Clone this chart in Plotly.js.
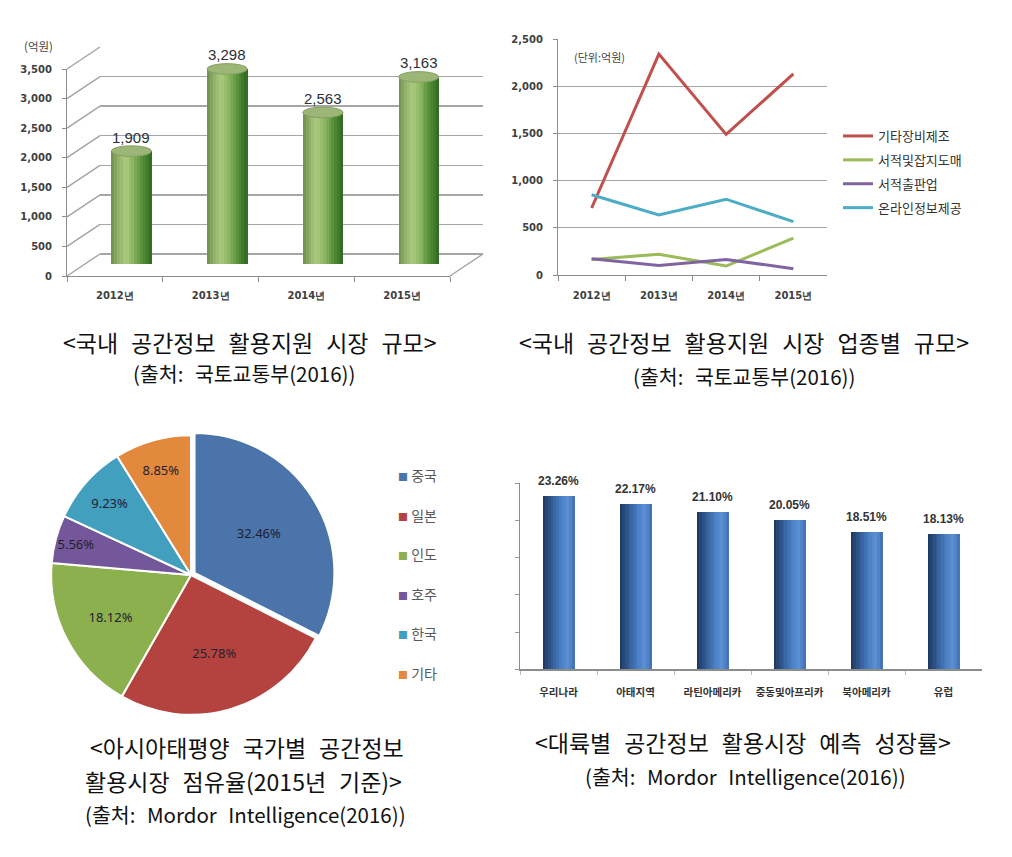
<!DOCTYPE html>
<html>
<head>
<meta charset="utf-8">
<script src="https://cdn.plot.ly/plotly-3.0.1.min.js"></script>
<style>
  body { margin: 0; background: #fff; }
  #chart { width: 1012px; height: 857px; }
</style>
</head>
<body>
<div id="chart"></div>
<script>
"use strict";

// 국내 공간정보 활용지원 시장 규모 (억원)
var years = ['2012년', '2013년', '2014년', '2015년'];
var marketSize = [1909, 3298, 2563, 3163];

// 업종별 규모 (단위: 억원)
var sectorNames = ['기타장비제조', '서적및잡지도매', '서적출판업', '온라인정보제공'];
var equipMfg = [710, 2340, 1490, 2130];
var bookWholesale = [165, 220, 95, 390];
var bookPublish = [172, 100, 165, 67];
var onlineInfo = [850, 636, 803, 566];
var sectorColors = ['#c0504d', '#9bbb59', '#8064a2', '#4bacc6'];

// 아시아태평양 국가별 점유율 (%)
var countries = ['중국', '일본', '인도', '호주', '한국', '기타'];
var shares = [32.46, 25.78, 18.12, 5.56, 9.23, 8.85];
var pieColors = ['#4a74aa', '#b4433f', '#8db04f', '#74579a', '#429fbd', '#e2893d'];

// 대륙별 예측 성장률 (%)
var regions = ['우리나라', '아태지역', '라틴아메리카', '중동및아프리카', '북아메리카', '유럽'];
var growth = [23.26, 22.17, 21.10, 20.05, 18.51, 18.13];

var W = 1012, H = 857;
function px(x) { return x / W; }
function py(y) { return 1 - y / H; }

// couleurs en dégradé pour simuler les cylindres
function hex2rgb(h) {
  return [parseInt(h.substr(1, 2), 16), parseInt(h.substr(3, 2), 16), parseInt(h.substr(5, 2), 16)];
}
function gradientAt(stops, t) {
  for (var i = 1; i < stops.length; i++) {
    if (t <= stops[i][0]) {
      var a = hex2rgb(stops[i - 1][1]), b = hex2rgb(stops[i][1]);
      var f = (t - stops[i - 1][0]) / (stops[i][0] - stops[i - 1][0]);
      var c = a.map(function (v, k) { return Math.round(v + (b[k] - v) * f); });
      return 'rgb(' + c.join(',') + ')';
    }
  }
  return stops[stops.length - 1][1];
}

function stripedBars(x, y, xa, ya, totalWidth, n, stops) {
  var traces = [];
  var w = totalWidth / n;
  for (var k = 0; k < n; k++) {
    traces.push({
      type: 'bar', x: x, y: y, xaxis: xa, yaxis: ya,
      width: w * 1.15, offset: -totalWidth / 2 + k * w,
      marker: { color: gradientAt(stops, (k + 0.5) / n), line: { width: 0 } },
      showlegend: false, hoverinfo: 'skip'
    });
  }
  return traces;
}

// trace transparente : juste pour que plotly dessine les axes du sous-graphique
function axisHolder(x, y, xa, ya) {
  return {
    type: 'scatter', mode: 'markers', x: x, y: y, xaxis: xa, yaxis: ya,
    marker: { opacity: 0 }, showlegend: false, hoverinfo: 'skip'
  };
}

var data = [];

// --- graphique 1 : cylindres verts ---
data.push(axisHolder(years, marketSize, 'x', 'y'));
data.push(axisHolder(years, marketSize, 'x2', 'y2'));
var greenStops = [[0, '#718a50'], [0.15, '#8fae66'], [0.35, '#abcb81'], [0.55, '#88b35e'], [0.8, '#4f8a33'], [1, '#2e6821']];
data = data.concat(stripedBars(years, marketSize, 'x3', 'y3', 0.42, 14, greenStops));

// --- graphique 2 : lignes par secteur ---
[equipMfg, bookWholesale, bookPublish, onlineInfo].forEach(function (vals, i) {
  data.push({
    type: 'scatter', mode: 'lines', x: years, y: vals, xaxis: 'x4', yaxis: 'y4',
    name: sectorNames[i], legendgroup: sectorNames[i],
    line: { color: sectorColors[i], width: 3 }
  });
});

// --- graphique 3 : camembert ---
data.push({
  type: 'pie', labels: countries, values: shares, sort: false, direction: 'clockwise',
  rotation: 0, pull: [0.03, 0, 0, 0, 0, 0],
  marker: { colors: pieColors, line: { color: '#ffffff', width: 2 } },
  texttemplate: '%{value:.2f}%', textposition: 'inside', insidetextorientation: 'horizontal',
  textfont: { family: 'Noto Sans', size: 13, color: '#1e2230' },
  domain: { x: [px(47), px(335)], y: [py(719), py(431)] },
  showlegend: false, hoverinfo: 'skip'
});

// --- graphique 4 : barres bleues ---
var blueStops = [[0, '#1d3558'], [0.2, '#2b5085'], [0.55, '#487dc2'], [0.8, '#5c90d6'], [1, '#3f6eae']];
data = data.concat(stripedBars(regions, growth, 'x5', 'y5', 0.415, 12, blueStops));

var tickFont = { family: 'DejaVu Sans', size: 10, color: '#404040', weight: 'bold' };

var shapes = [];
var annotations = [];

// parois 3D du graphique 1 : diagonales entre le plan avant et le mur du fond
var front = { left: 67, right: 450, bottom: 276, top: 69 };
var depthX = 33, depthY = 22;
for (var t = 0; t <= 3500; t += 500) {
  var yy = front.bottom - (front.bottom - front.top) * t / 3500;
  shapes.push({
    type: 'line', xref: 'paper', yref: 'paper', layer: 'below',
    x0: px(front.left), y0: py(yy), x1: px(front.left + depthX), y1: py(yy - depthY),
    line: { color: '#a6a6a6', width: 1.5 }
  });
}
shapes.push({
  type: 'line', xref: 'paper', yref: 'paper', layer: 'below',
  x0: px(front.right), y0: py(front.bottom), x1: px(front.right + depthX), y1: py(front.bottom - depthY),
  line: { color: '#a6a6a6', width: 1.5 }
});

// bases et couvercles elliptiques des cylindres
var capH = 90;
marketSize.forEach(function (v, i) {
  shapes.push({
    type: 'circle', xref: 'x3', yref: 'y3', layer: 'below',
    x0: i - 0.21, x1: i + 0.21, y0: -capH, y1: capH,
    fillcolor: '#4a7f33', line: { width: 0 }
  });
  shapes.push({
    type: 'circle', xref: 'x3', yref: 'y3', layer: 'above',
    x0: i - 0.21, x1: i + 0.21, y0: v - capH, y1: v + capH,
    fillcolor: '#9cb678', line: { color: '#86a062', width: 1 }
  });
  annotations.push({
    xref: 'x3', yref: 'y3', x: i, y: v, yshift: 14, yanchor: 'middle', showarrow: false,
    text: v.toLocaleString('en-US'),
    font: { family: 'Liberation Sans', size: 15, color: '#2b2f3a' }
  });
});

annotations.push({
  xref: 'paper', yref: 'paper', x: px(38), y: py(46), xanchor: 'center', yanchor: 'middle',
  showarrow: false,
  text: '(억원)', font: { family: 'Noto Sans CJK KR', size: 11.5, color: '#444' }
});
annotations.push({
  xref: 'paper', yref: 'paper', x: px(599), y: py(57), xanchor: 'center', yanchor: 'middle',
  showarrow: false,
  text: '(단위:억원)', font: { family: 'Noto Sans CJK KR', size: 11, color: '#444' }
});

// étiquettes du graphique 4
growth.forEach(function (v, i) {
  annotations.push({
    xref: 'x5', yref: 'y5', x: i, y: v, yshift: 15, yanchor: 'middle', showarrow: false,
    text: '<b>' + v.toFixed(2) + '%</b>',
    font: { family: 'Liberation Sans', size: 12, color: '#333' }
  });
});

// légende du camembert
countries.forEach(function (c, i) {
  annotations.push({
    xref: 'paper', yref: 'paper', x: px(396), y: py(475 + i * 39.6), xanchor: 'left', yanchor: 'middle',
    showarrow: false,
    text: '<span style="color:' + pieColors[i] + ';font-size:10px">■</span> ' + c,
    font: { family: 'Noto Sans CJK KR', size: 14, color: '#595959' }
  });
});

// légendes sous les graphiques
var sp = '\u2002\u200a';
var captions = [
  ['<국내 공간정보 활용지원 시장 규모>', 250, 342, 23],
  ['(출처: 국토교통부(2016))', 244, 373, 20.5],
  ['<국내 공간정보 활용지원 시장 업종별 규모>', 744, 342, 23],
  ['(출처: 국토교통부(2016))', 744, 376, 20.5],
  ['<아시아태평양 국가별 공간정보', 247, 747, 23],
  ['활용시장 점유율(2015년 기준)>', 243, 781, 23],
  ['(출처: Mordor Intelligence(2016))', 245, 814, 20.5],
  ['<대륙별 공간정보 활용시장 예측 성장률>', 743, 742, 23],
  ['(출처: Mordor Intelligence(2016))', 745, 776, 20.5]
];
captions.forEach(function (c) {
  annotations.push({
    xref: 'paper', yref: 'paper', x: px(c[1]), y: py(c[2]), xanchor: 'center', yanchor: 'middle',
    showarrow: false,
    text: c[0].split(' ').join(sp),
    font: { family: 'Noto Sans CJK KR', size: c[3], color: '#111' }
  });
});

var layout = {
  width: W, height: H,
  margin: { l: 0, r: 0, t: 0, b: 0 },
  paper_bgcolor: '#ffffff', plot_bgcolor: 'rgba(0,0,0,0)',
  barmode: 'overlay', bargap: 0,
  hovermode: false,
  showlegend: true,
  legend: {
    x: px(838), xanchor: 'left', y: py(121), yanchor: 'top',
    font: { family: 'Noto Sans CJK KR', size: 13, color: '#333' },
    tracegroupgap: 4, bgcolor: 'rgba(0,0,0,0)'
  },
  // graphique 1 : plan avant (axes visibles)
  xaxis: {
    domain: [px(67), px(450)], anchor: 'y', type: 'category', categoryarray: years, range: [-0.5, 3.5],
    showline: true, linecolor: '#8c8c8c', ticks: 'outside', tickson: 'boundaries', ticklen: 5,
    tickcolor: '#8c8c8c', showgrid: false, tickfont: tickFont, ticklabelstandoff: 10
  },
  yaxis: {
    domain: [py(276), py(69)], anchor: 'x', range: [0, 3500], dtick: 500, tickformat: ',d',
    showline: true, linecolor: '#8c8c8c', ticks: 'outside', ticklen: 4, tickcolor: '#8c8c8c',
    showgrid: false, zeroline: false, tickfont: tickFont, ticklabelstandoff: 8
  },
  // graphique 1 : mur du fond (grille)
  xaxis2: {
    domain: [px(67 + depthX), px(450 + depthX)], anchor: 'y2', type: 'category', categoryarray: years,
    range: [-0.5, 3.5], visible: false
  },
  yaxis2: {
    domain: [py(276 - depthY), py(69 - depthY)], anchor: 'x2', range: [0, 3500], dtick: 500,
    showgrid: true, gridcolor: '#a6a6a6', gridwidth: 1.5, zeroline: true, zerolinecolor: '#a6a6a6',
    zerolinewidth: 1.5, showticklabels: false, ticks: '', showline: false
  },
  // graphique 1 : plan des cylindres
  xaxis3: {
    domain: [px(67 + 16.5), px(450 + 16.5)], anchor: 'y3', type: 'category', categoryarray: years,
    range: [-0.5, 3.5], visible: false
  },
  yaxis3: { domain: [py(264), py(57)], anchor: 'x3', range: [0, 3500], visible: false },
  // graphique 2
  xaxis4: {
    domain: [px(558), px(827)], anchor: 'y4', type: 'category', categoryarray: years, range: [-0.5, 3.5],
    showline: true, linecolor: '#8c8c8c', ticks: 'outside', tickson: 'boundaries', ticklen: 5,
    tickcolor: '#8c8c8c', showgrid: false, tickfont: tickFont, ticklabelstandoff: 11
  },
  yaxis4: {
    domain: [py(275), py(39)], anchor: 'x4', range: [0, 2500], dtick: 500, tickformat: ',d',
    showline: true, linecolor: '#8c8c8c', ticks: 'outside', ticklen: 4, tickcolor: '#8c8c8c',
    showgrid: true, gridcolor: '#a6a6a6', gridwidth: 1, zeroline: false, tickfont: tickFont,
    ticklabelstandoff: 8
  },
  // graphique 4
  xaxis5: {
    domain: [px(520), px(982)], anchor: 'y5', type: 'category', categoryarray: regions, range: [-0.5, 5.5],
    showline: true, linecolor: '#8c8c8c', linewidth: 1.5, ticks: 'outside', tickson: 'boundaries',
    ticklen: 4, tickcolor: '#bbbbbb', showgrid: false, ticklabelstandoff: 13, tickangle: 0,
    tickfont: { family: 'Noto Sans CJK KR', size: 10.5, color: '#333', weight: 'bold' }
  },
  yaxis5: {
    domain: [py(669.3), py(483.3)], anchor: 'x5', range: [0, 25], dtick: 5,
    showline: true, linecolor: '#8c8c8c', ticks: 'outside', ticklen: 4, tickcolor: '#999',
    showgrid: false, zeroline: false, showticklabels: false
  },
  shapes: shapes,
  annotations: annotations
};

Plotly.newPlot('chart', data, layout, { displayModeBar: false, staticPlot: true });
</script>
</body>
</html>
